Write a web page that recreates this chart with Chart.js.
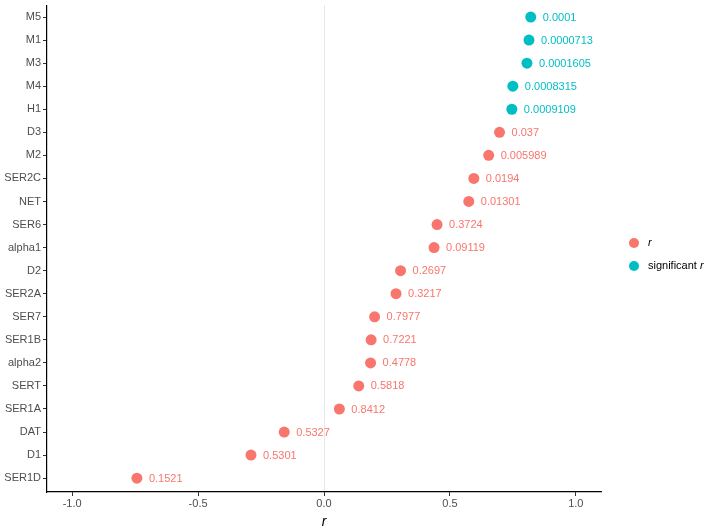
<!DOCTYPE html>
<html>
<head>
<meta charset="utf-8">
<script src="https://cdn.jsdelivr.net/npm/chart.js@4"></script>
<style>
  body { margin: 0; background: #fff; }
  canvas { display: block; }
</style>
</head>
<body>
<canvas id="chart" width="709" height="527"></canvas>
<script>
const genes = ['M5', 'M1', 'M3', 'M4', 'H1', 'D3', 'M2', 'SER2C', 'NET', 'SER6', 'alpha1',
    'D2', 'SER2A', 'SER7', 'SER1B', 'alpha2', 'SERT', 'SER1A', 'DAT', 'D1', 'SER1D'];
const rValues = [0.821, 0.814, 0.806, 0.750, 0.746, 0.697, 0.654, 0.595, 0.575, 0.449, 0.437,
    0.304, 0.286, 0.201, 0.187, 0.185, 0.138, 0.061, -0.158, -0.290, -0.743];
const pLabels = ['0.0001', '0.0000713', '0.0001605', '0.0008315', '0.0009109', '0.037', '0.005989',
    '0.0194', '0.01301', '0.3724', '0.09119', '0.2697', '0.3217', '0.7977', '0.7221', '0.4778',
    '0.5818', '0.8412', '0.5327', '0.5301', '0.1521'];
const xTicks = [-1.0, -0.5, 0.0, 0.5, 1.0];

const SALMON = '#F8766D';
const TEAL = '#00BFC4';
const FONT = '"Liberation Sans", Arial, sans-serif';

const isSig = pLabels.map(p => parseFloat(p) < 0.001);

function points(sig) {
    const out = [];
    genes.forEach((g, i) => {
        if (isSig[i] === sig) out.push({ x: rValues[i], y: i, p: pLabels[i] });
    });
    return out;
}

// p-value text next to each point
const pointLabels = {
    id: 'pointLabels',
    afterDatasetsDraw(chart) {
        const ctx = chart.ctx;
        ctx.save();
        ctx.font = '11px ' + FONT;
        ctx.textBaseline = 'middle';
        ctx.textAlign = 'left';
        chart.data.datasets.forEach((ds, di) => {
            ctx.fillStyle = ds.backgroundColor;
            chart.getDatasetMeta(di).data.forEach((el, i) => {
                ctx.fillText(ds.data[i].p, el.x + 12, el.y + 0.5);
            });
        });
        ctx.restore();
    }
};

// ggplot-style legend on the right
const sideLegend = {
    id: 'sideLegend',
    afterDraw(chart) {
        const ctx = chart.ctx;
        const items = [
            { color: SALMON, pre: '', y: 243 },
            { color: TEAL, pre: 'significant ', y: 266 }
        ];
        ctx.save();
        ctx.textBaseline = 'middle';
        items.forEach(it => {
            ctx.fillStyle = it.color;
            ctx.beginPath();
            ctx.arc(634, it.y, 5, 0, Math.PI * 2);
            ctx.fill();
            ctx.fillStyle = '#000';
            let x = 648;
            ctx.font = '11px ' + FONT;
            if (it.pre) {
                ctx.fillText(it.pre, x, it.y);
                x += ctx.measureText(it.pre).width;
            }
            ctx.font = 'italic 11px ' + FONT;
            ctx.fillText('r', x, it.y);
        });
        ctx.restore();
    }
};

new Chart(document.getElementById('chart'), {
    type: 'scatter',
    data: {
        datasets: [
            {
                label: 'r',
                data: points(false),
                backgroundColor: SALMON,
                borderColor: SALMON,
                pointRadius: 5.5,
                pointHoverRadius: 5.5,
                borderWidth: 0
            },
            {
                label: 'significant r',
                data: points(true),
                backgroundColor: TEAL,
                borderColor: TEAL,
                pointRadius: 5.5,
                pointHoverRadius: 5.5,
                borderWidth: 0
            }
        ]
    },
    options: {
        responsive: false,
        animation: false,
        layout: { padding: { left: 0, right: 108, top: 0, bottom: 0 } },
        plugins: {
            legend: { display: false },
            tooltip: { enabled: false }
        },
        scales: {
            x: {
                type: 'linear',
                min: -1.1,
                max: 1.1,
                afterBuildTicks: scale => { scale.ticks = xTicks.map(v => ({ value: v })); },
                afterFit: scale => { scale.height = 35; },
                grid: {
                    color: ctx => (ctx.tick && ctx.tick.value === 0) ? '#e6e6e6' : 'rgba(0,0,0,0)',
                    lineWidth: 1,
                    tickColor: '#333',
                    tickLength: 4,
                    drawTicks: true
                },
                border: { display: true, color: '#000', width: 1.2 },
                ticks: {
                    color: '#4D4D4D',
                    font: { family: FONT, size: 11 },
                    padding: 1,
                    maxRotation: 0,
                    callback: v => v.toFixed(1)
                },
                title: {
                    display: true,
                    text: 'r',
                    color: '#000',
                    font: { family: FONT, size: 14, style: 'italic' },
                    padding: { top: 0, bottom: -4 }
                }
            },
            y: {
                type: 'linear',
                reverse: true,
                min: -0.5,
                max: genes.length - 0.4,
                afterBuildTicks: scale => { scale.ticks = genes.map((g, i) => ({ value: i })); },
                afterFit: scale => {
                    scale.width = 47;
                    scale.paddingTop = 0;
                    scale.paddingBottom = 0;
                },
                grid: {
                    drawOnChartArea: false,
                    tickColor: '#333',
                    tickLength: 4
                },
                border: { display: true, color: '#000', width: 1.2 },
                ticks: {
                    color: '#4D4D4D',
                    font: { family: FONT, size: 11 },
                    padding: 2,
                    autoSkip: false,
                    callback: v => genes[v]
                }
            }
        }
    },
    plugins: [pointLabels, sideLegend]
});
</script>
</body>
</html>
